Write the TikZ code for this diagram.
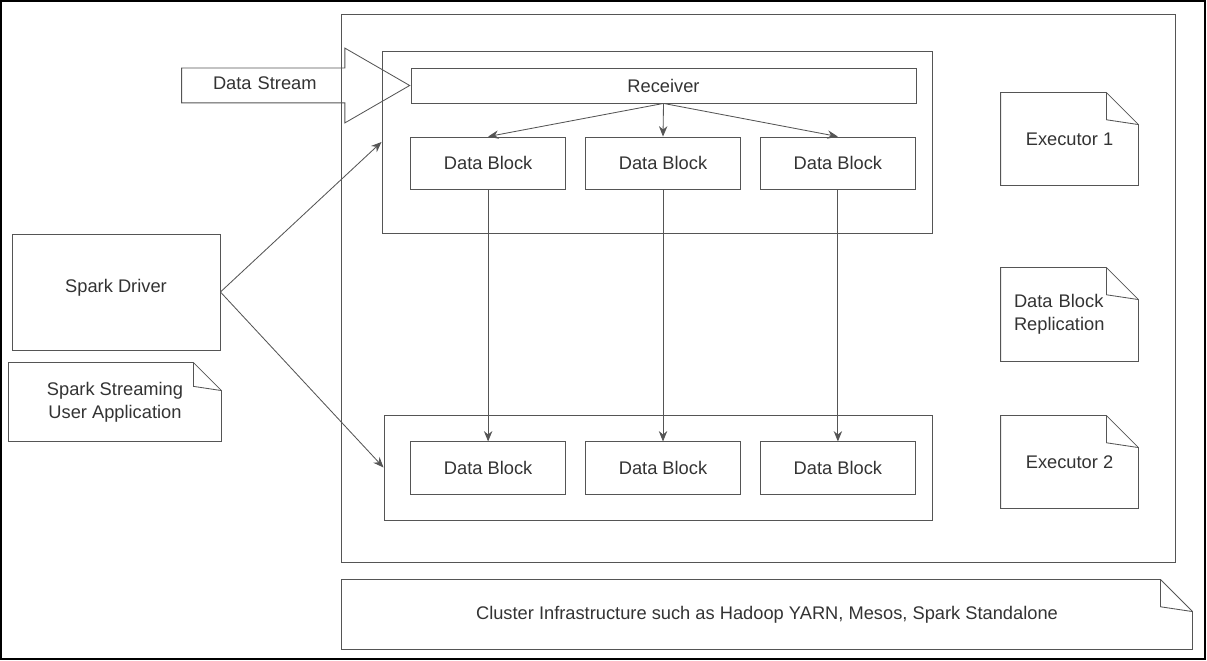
\documentclass[tikz,border=0pt]{standalone}
\usepackage{fontspec}
\setmainfont{Liberation Sans}
\usetikzlibrary{arrows.meta,positioning,shapes.arrows}
\definecolor{linegray}{HTML}{555555}
\definecolor{textgray}{HTML}{333333}
\tikzset{
    box/.style={rectangle,draw=linegray,line width=0.6pt,inner sep=0pt,text=textgray,align=center,font=\fontsize{13}{16.3}\selectfont},
    block/.style={box,minimum width=3.875cm,minimum height=1.3cm},
    note/.style={box,draw=none},
    stream/.style={single arrow,draw=linegray,line width=0.6pt,text=textgray,font=\fontsize{13}{16.3}\selectfont,
        text width=4.925cm,align=left,single arrow head extend=0.5cm,single arrow tip angle=60,
        text height=0.3cm,text depth=0.1cm,inner ysep=0.225cm,inner xsep=0pt},
    pre/.style={->,draw=linegray,line width=0.6pt,>={Stealth[length=2.6mm,width=2.1mm]}}
}
\newcommand{\foldnote}[2]{%
    \draw[linegray,line width=0.6pt] (#1.south west) -- (#1.north west) -- ([xshift=-#2]#1.north east)
        -- ([yshift=-#2]#1.north east) -- (#1.south east) -- cycle;
    \draw[linegray,line width=0.6pt] ([xshift=-#2]#1.north east) -- ([xshift=-#2,yshift=-0.85*#2]#1.north east)
        -- ([yshift=-#2]#1.north east);
}

\begin{document}
\begin{tikzpicture}[x=0.025cm,y=-0.025cm]

                \useasboundingbox (0,0) rectangle (1207,661);

                \node[box,minimum width=20.825cm,minimum height=13.7cm] (cluster) at (758.5,288) {};
                \node[box,minimum width=13.75cm,minimum height=4.55cm] (exec top) at (657,142) {};
                \node[box,minimum width=13.7cm,minimum height=2.625cm] (exec bottom) at (658,467.5) {};

                \node[box,minimum width=12.625cm,minimum height=0.875cm] (receiver) at (663.5,85.5) {Receiver};
                \node[stream,anchor=tip] (stream) at (receiver.west) {\hspace*{0.775cm}Data Stream};

                \node[block] (block 2) at (663,163) {Data Block};
                \node[block] (block 1) [left=0.475cm of block 2] {Data Block};
                \node[block] (block 3) [right=0.475cm of block 2] {Data Block};

                \node[block] (copy 2) [below=6.3cm of block 2] {Data Block};
                \node[block] (copy 1) [left=0.475cm of copy 2] {Data Block};
                \node[block] (copy 3) [right=0.475cm of copy 2] {Data Block};

                \node[box,minimum width=5.2cm,minimum height=2.9cm,text depth=0.3cm] (driver) at (116,292) {Spark Driver};
                \node[note,minimum width=5.3cm,minimum height=1.95cm] (app) at (115,402) {Spark Streaming\\User Application};

                \node[note,minimum width=3.425cm,minimum height=2.3cm] (executor 1) at (1069.5,139) {Executor 1};
                \node[note,minimum width=3.425cm,minimum height=2.325cm,align=left,text width=2.775cm,inner xsep=0.325cm]
                    (replication) at (1069.5,314.5) {Data Block\\Replication};
                \node[note,minimum width=3.425cm,minimum height=2.3cm] (executor 2) at (1069.5,462) {Executor 2};
                \node[note,minimum width=21.25cm,minimum height=1.725cm] (infra) at (767,614.5)
                    {Cluster Infrastructure such as Hadoop YARN, Mesos, Spark Standalone};

                \foldnote{app}{0.7cm}
                \foldnote{executor 1}{0.8cm}
                \foldnote{replication}{0.8cm}
                \foldnote{executor 2}{0.8cm}
                \foldnote{infra}{0.8cm}

                \draw[pre] (receiver.south) -- (block 1.north);
                \draw[pre] (receiver.south) -- (block 2.north);
                \draw[pre] (receiver.south) -- (block 3.north);

                \draw[pre] (block 1) -- (copy 1);
                \draw[pre] (block 2) -- (copy 2);
                \draw[pre] (block 3) -- (copy 3);

                \draw[pre] (driver.east) -- (exec top.west);
                \draw[pre] (driver.east) -- (exec bottom.west);

                \draw[black,line width=1.5pt] (1,1) rectangle (1205,659);

            \end{tikzpicture}
\end{document}
